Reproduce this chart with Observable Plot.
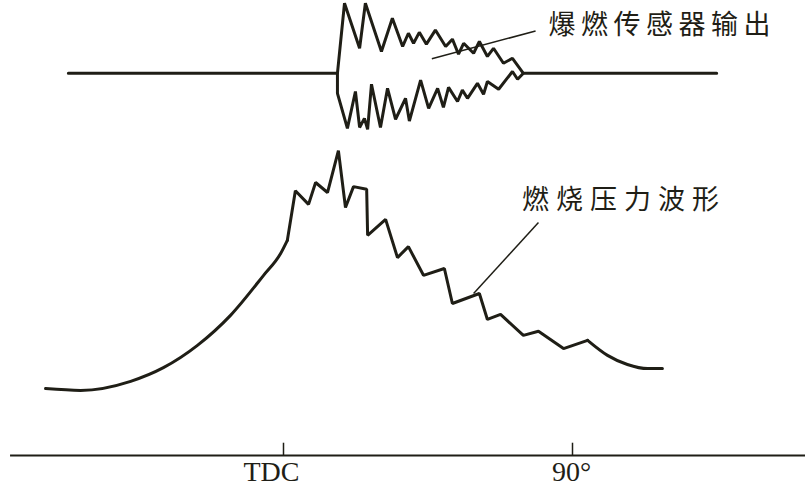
<!DOCTYPE html>
<html>
<head>
<meta charset="utf-8">
<script src="https://cdn.jsdelivr.net/npm/d3@7"></script>
<script src="https://cdn.jsdelivr.net/npm/@observablehq/plot@0.6"></script>
<style>
  html, body { margin: 0; padding: 0; background: #fff; }
</style>
</head>
<body>
<div id="chart"></div>
<script>
// Crank angle (degrees, TDC = 0) and combustion pressure (arbitrary units)
const riseDeg = [-74.1, -63.2, -47.6, -37.4, -26.8, -16.5, -6.2, -0.9, 1.2];
const risePressure = [14.7, 14.3, 16.3, 19.3, 24.2, 30.8, 39.6, 44.4, 47.3];

const knockPeakDeg = [1.2, 3.7, 7.8, 10.0, 13.7, 17.1, 19.3, 21.8, 25.9, 26.2, 31.8, 35.5,
  38.9, 43.6, 50.1, 52.6, 61.0, 63.5, 67.6, 74.7, 79.4, 87.2, 94.7];
const knockPeakPressure = [47.3, 58.2, 55.2, 60.0, 57.8, 67.0, 54.5, 59.1, 58.5, 48.4, 51.9, 43.5,
  45.9, 39.6, 41.1, 33.4, 35.6, 29.9, 31.0, 26.4, 27.3, 23.5, 25.3];

const tailDeg = [94.7, 100.9, 107.1, 113.4, 118.0];
const tailPressure = [25.3, 22.0, 20.0, 19.1, 19.1];

// Knock sensor output (signal amplitude, arbitrary units)
const sensorUpperDeg = [-67.0, 16.8, 19.0, 23.7, 25.5, 30.5, 33.9, 37.1, 38.9, 40.5, 42.3, 44.5,
  47.3, 50.5, 52.6, 54.5, 56.1, 59.2, 61.0, 63.5, 65.4, 68.5, 71.3, 74.7, 134.9];
const sensorUpperAmp = [0, 0, 15.4, 5.5, 15.4, 4.8, 12.1, 5.9, 8.8, 6.6, 9.0, 6.4,
  9.5, 5.9, 7.5, 4.2, 6.6, 4.4, 7.0, 3.7, 5.5, 2.2, 3.3, 0, 0];
const sensorLowerDeg = [16.8, 16.8, 19.9, 22.4, 23.7, 25.2, 26.2, 27.4, 30.2, 32.4, 34.9, 38.0,
  39.2, 42.7, 45.2, 48.0, 49.8, 51.4, 54.2, 55.7, 57.3, 60.4, 62.3, 63.5, 67.0, 71.3, 72.9, 74.7];
const sensorLowerAmp = [0, -4.4, -12.1, -4.0, -11.9, -9.9, -12.3, -2.4, -11.9, -3.3, -10.1, -5.5,
  -10.5, -1.5, -7.7, -3.3, -7.5, -3.1, -6.2, -3.7, -5.5, -2.2, -4.6, -1.8, -3.5, 0.4, -1.3, 0];
const sensorLevel = 84;

// Axis ticks
const tickDeg = [0, 90];
const tickLabels = ["TDC", "90°"];

// Annotations (anchor in data units)
const knockLabel = "爆燃传感器输出";
const knockLabelAt = [82.5, 94.5];
const knockLeader = [[46.2, 87.2], [78.5, 93.3]];
const pressureLabel = "燃烧压力波形";
const pressureLabelAt = [74.3, 56.0];
const pressureLeader = [[79.4, 51.2], [59.2, 35.6]];

const ink = "#1f1e16";

const zip = (xs, ys) => xs.map((x, i) => ({x, y: ys[i]}));
const rise = zip(riseDeg, risePressure);
const jagged = zip(knockPeakDeg, knockPeakPressure);
const tail = zip(tailDeg, tailPressure);
const upper = zip(sensorUpperDeg, sensorUpperAmp);
const lower = zip(sensorLowerDeg, sensorLowerAmp);

const chart = Plot.plot({
  width: 805,
  height: 487,
  marginLeft: 0,
  marginRight: 0,
  marginTop: 0,
  marginBottom: 32,
  x: {domain: [-88.13, 162.56], axis: null},
  y: {domain: [0, 100], axis: null},
  style: {background: "#fff"},
  marks: [
    // axis baseline and ticks
    Plot.ruleY([0], {x1: -85, x2: 162.56, stroke: ink, strokeWidth: 2}),
    Plot.ruleX(tickDeg, {y1: 0, y2: 2.7, stroke: ink, strokeWidth: 1.5}),
    Plot.text([tickDeg[0]], {x: d => d, y: 0, text: () => tickLabels[0], dx: -12, dy: 6,
      lineAnchor: "top", fontFamily: "Liberation Serif", fontSize: 28, fill: ink}),
    Plot.text([tickDeg[1]], {x: d => d, y: 0, text: () => tickLabels[1], dx: -1, dy: 6,
      lineAnchor: "top", fontFamily: "Liberation Serif", fontSize: 28, fill: ink}),
    // combustion pressure
    Plot.line(rise, {x: "x", y: "y", curve: "monotone-x", stroke: ink, strokeWidth: 3}),
    Plot.line(jagged, {x: "x", y: "y", stroke: ink, strokeWidth: 3, strokeLinejoin: "miter"}),
    Plot.line(tail, {x: "x", y: "y", curve: "monotone-x", stroke: ink, strokeWidth: 3}),
    // knock sensor output
    Plot.line(upper, {x: "x", y: d => sensorLevel + d.y, stroke: ink, strokeWidth: 3, strokeLinejoin: "miter"}),
    Plot.line(lower, {x: "x", y: d => sensorLevel + d.y, stroke: ink, strokeWidth: 3, strokeLinejoin: "miter"}),
    // leaders
    Plot.link([knockLeader], {x1: d => d[0][0], y1: d => d[0][1], x2: d => d[1][0], y2: d => d[1][1],
      stroke: ink, strokeWidth: 1.5}),
    Plot.link([pressureLeader], {x1: d => d[0][0], y1: d => d[0][1], x2: d => d[1][0], y2: d => d[1][1],
      stroke: ink, strokeWidth: 1.5}),
    // labels
    Plot.text([knockLabelAt], {x: d => d[0], y: d => d[1], text: () => knockLabel, textAnchor: "start",
      fontFamily: "Noto Sans CJK SC", fontSize: 27, fill: ink}),
    Plot.text([pressureLabelAt], {x: d => d[0], y: d => d[1], text: () => pressureLabel, textAnchor: "start",
      fontFamily: "Noto Sans CJK SC", fontSize: 27, fill: ink})
  ]
});
d3.select(chart).selectAll("text")
  .filter(function() { return this.textContent === knockLabel; })
  .style("letter-spacing", "5.5px");
d3.select(chart).selectAll("text")
  .filter(function() { return this.textContent === pressureLabel; })
  .style("letter-spacing", "7px");
document.getElementById("chart").appendChild(chart);
</script>
</body>
</html>
